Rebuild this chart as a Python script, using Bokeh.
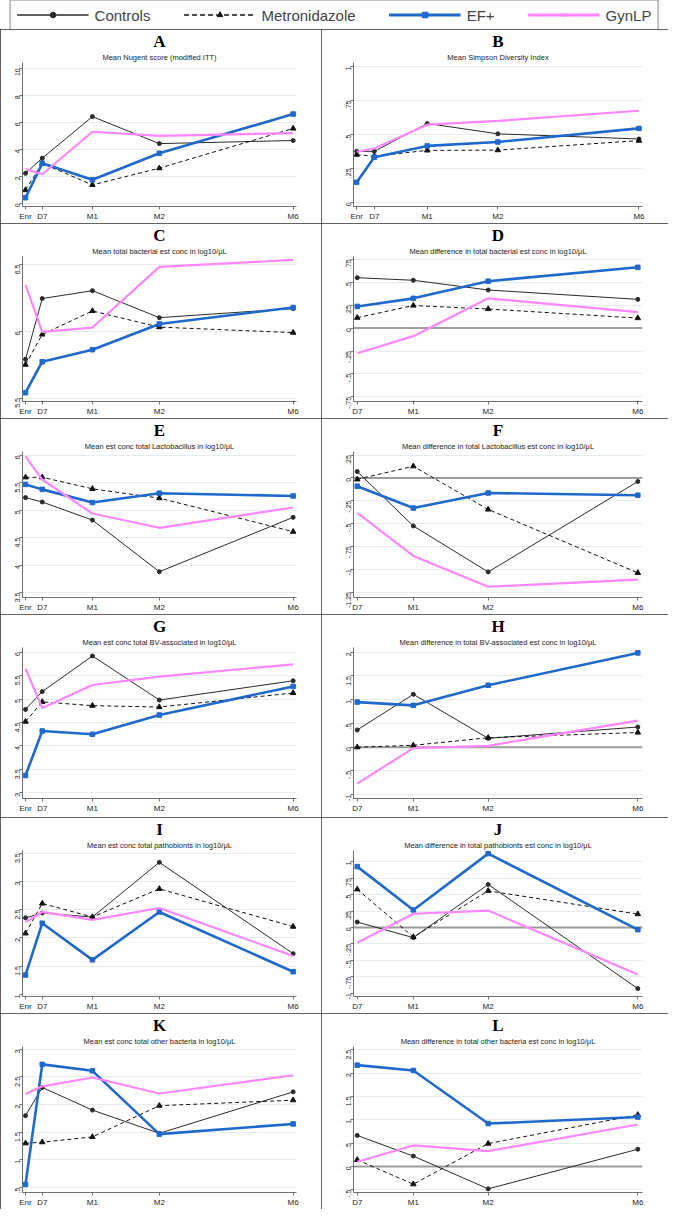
import math
from bokeh.plotting import figure
from bokeh.layouts import gridplot, column
from bokeh.models import FixedTicker, Range1d, Title, Span, Legend, LegendItem
from bokeh.embed import file_html
from bokeh.resources import INLINE

# ---------------- data ----------------
series_names = ["Controls", "Metronidazole", "EF+", "GynLP"]

x_all = [0, 1, 4, 8, 16]
x_all_labels = ["Enr", "D7", "M1", "M2", "M6"]
x_diff = [1, 4, 8, 16]
x_diff_labels = ["D7", "M1", "M2", "M6"]

# A: Mean Nugent score
a_ctrl = [2.22, 3.34, 6.42, 4.42, 4.65]
a_metro = [0.98, 2.95, 1.36, 2.60, 5.54]
a_ef = [0.41, 2.96, 1.74, 3.70, 6.61]
a_gyn = [2.53, 2.15, 5.30, 4.99, 5.20]
# B: Simpson diversity
b_ctrl = [0.376, 0.376, 0.581, 0.505, 0.467]
b_metro = [0.352, 0.340, 0.383, 0.385, 0.455]
b_ef = [0.148, 0.333, 0.416, 0.445, 0.545]
b_gyn = [0.373, 0.397, 0.572, 0.600, 0.675]
# C: total bacterial conc
c_ctrl = [5.79, 6.245, 6.304, 6.102, 6.17]
c_metro = [5.75, 5.976, 6.152, 6.031, 5.99]
c_ef = [5.54, 5.772, 5.862, 6.055, 6.178]
c_gyn = [6.347, 5.995, 6.028, 6.482, 6.534]
# D: difference total bacterial
d_ctrl = [0.549, 0.521, 0.415, 0.313]
d_metro = [0.113, 0.246, 0.208, 0.109]
d_ef = [0.236, 0.324, 0.511, 0.662]
d_gyn = [-0.275, -0.088, 0.324, 0.173]
# E: Lactobacillus
e_ctrl = [5.23, 5.15, 4.82, 3.88, 4.87]
e_metro = [5.60, 5.60, 5.39, 5.22, 4.61]
e_ef = [5.47, 5.38, 5.14, 5.31, 5.26]
e_gyn = [5.98, 5.56, 4.94, 4.68, 5.05]
# F: difference Lactobacillus
f_ctrl = [0.07, -0.526, -1.03, -0.039]
f_metro = [-0.015, 0.128, -0.345, -1.04]
f_ef = [-0.09, -0.33, -0.165, -0.189]
f_gyn = [-0.383, -0.855, -1.192, -1.114]
# G: BV-associated
g_ctrl = [4.78, 5.16, 5.92, 4.98, 5.39]
g_metro = [4.52, 4.94, 4.86, 4.83, 5.13]
g_ef = [3.37, 4.32, 4.25, 4.66, 5.27]
g_gyn = [5.65, 4.81, 5.30, 5.48, 5.74]
# H: difference BV-associated
h_ctrl = [0.364, 1.114, 0.187, 0.425]
h_metro = [0.0, 0.04, 0.20, 0.31]
h_ef = [0.95, 0.882, 1.305, 1.986]
h_gyn = [-0.768, -0.018, 0.03, 0.56]
# I: pathobionts
i_ctrl = [2.355, 2.44, 2.37, 3.34, 1.72]
i_metro = [2.08, 2.61, 2.37, 2.87, 2.20]
i_ef = [1.34, 2.26, 1.61, 2.46, 1.40]
i_gyn = [2.28, 2.46, 2.32, 2.53, 1.68]
# J: difference pathobionts
j_ctrl = [0.082, -0.155, 0.654, -0.93]
j_metro = [0.58, -0.145, 0.557, 0.203]
j_ef = [0.925, 0.266, 1.123, -0.034]
j_gyn = [-0.232, 0.208, 0.257, -0.717]
# K: other bacteria
k_ctrl = [1.80, 2.31, 1.90, 1.48, 2.23]
k_metro = [1.30, 1.32, 1.415, 1.98, 2.08]
k_ef = [0.556, 2.727, 2.61, 1.466, 1.65]
k_gyn = [2.19, 2.33, 2.49, 2.20, 2.53]
# L: difference other bacteria
l_ctrl = [0.663, 0.221, -0.482, 0.368]
l_metro = [0.14, -0.382, 0.489, 1.105]
l_ef = [2.17, 2.056, 0.918, 1.058]
l_gyn = [0.10, 0.449, 0.328, 0.897]

letters = ["A", "B", "C", "D", "E", "F", "G", "H", "I", "J", "K", "L"]
subtitles = [
    "Mean Nugent score (modified ITT)",
    "Mean Simpson Diversity Index",
    "Mean total bacterial est conc in log10/\u03bcL",
    "Mean difference in total bacterial est conc in log10/\u03bcL",
    "Mean est conc total Lactobacillus in log10/\u03bcL",
    "Mean difference in total Lactobacillus est conc in log10/\u03bcL",
    "Mean est conc total BV-associated in log10/\u03bcL",
    "Mean difference in total BV-associated est conc in log10/\u03bcL",
    "Mean est conc total pathobionts in log10/\u03bcL",
    "Mean difference in total pathobionts est conc in log10/\u03bcL",
    "Mean est conc total other bacteria in log10/\u03bcL",
    "Mean difference in total other bacteria est conc in log10/\u03bcL",
]
y_ticks = [
    [0, 2, 4, 6, 8, 10],
    [0, 0.25, 0.5, 0.75, 1],
    [5.5, 6, 6.5],
    [-0.75, -0.5, -0.25, 0, 0.25, 0.5, 0.75],
    [3.5, 4, 4.5, 5, 5.5, 6],
    [-1.25, -1, -0.75, -0.5, -0.25, 0, 0.25],
    [3, 3.5, 4, 4.5, 5, 5.5, 6],
    [-1, -0.5, 0, 0.5, 1, 1.5, 2],
    [1, 1.5, 2, 2.5, 3, 3.5],
    [-1, -0.75, -0.5, -0.25, 0, 0.25, 0.5, 0.75, 1],
    [0.5, 1, 1.5, 2, 2.5, 3],
    [-0.5, 0, 0.5, 1, 1.5, 2, 2.5],
]
panel_data = [
    (a_ctrl, a_metro, a_ef, a_gyn), (b_ctrl, b_metro, b_ef, b_gyn),
    (c_ctrl, c_metro, c_ef, c_gyn), (d_ctrl, d_metro, d_ef, d_gyn),
    (e_ctrl, e_metro, e_ef, e_gyn), (f_ctrl, f_metro, f_ef, f_gyn),
    (g_ctrl, g_metro, g_ef, g_gyn), (h_ctrl, h_metro, h_ef, h_gyn),
    (i_ctrl, i_metro, i_ef, i_gyn), (j_ctrl, j_metro, j_ef, j_gyn),
    (k_ctrl, k_metro, k_ef, k_gyn), (l_ctrl, l_metro, l_ef, l_gyn),
]

# ---------------- layout / style ----------------
y_ranges = [(-0.24, 10.43), (-0.03, 1.03), (5.474, 6.56), (-0.80, 0.78),
            (3.41, 6.07), (-1.31, 0.29), (2.88, 6.10), (-1.08, 2.10),
            (0.96, 3.55), (-1.05, 1.17), (0.41, 3.05), (-0.56, 2.57)]
left_b = [21, 21, 22, 26, 21, 32, 21, 32, 22, 27, 18, 26]
right_b = [11, 15, 14, 18, 12, 24, 12, 24, 25, 26, 14, 24]
row_h = [194, 195, 196, 203, 196, 196]
row_top = [31, 30, 31, 30, 30, 33]
row_bot = [16, 15, 11, 19, 17, 11]
col_w = [321, 347]

C_CTRL = "#2a2a2a"
C_METRO = "#111111"
C_EF = "#1f68cc"
C_GYN = "#ff86ff"
GRID = "#e3edef"
AXIS = "#707070"


def stata_label(v):
    s = "%g" % v
    if s.startswith("0."):
        s = s[1:]
    elif s.startswith("-0."):
        s = "-" + s[2:]
    return s


def draw_series(p, xs, ctrl, metro, ef, gyn):
    p.line(xs, ctrl, line_color=C_CTRL, line_width=1)
    p.scatter(xs, ctrl, marker="circle", size=4, color=C_CTRL)
    p.line(xs, metro, line_color=C_METRO, line_width=1, line_dash="4 3")
    p.scatter(xs, metro, marker="triangle", size=5.5, color=C_METRO)
    p.line(xs, ef, line_color=C_EF, line_width=2.6)
    p.scatter(xs, ef, marker="square", size=4.5, color=C_EF)
    p.line(xs, gyn, line_color=C_GYN, line_width=2.2)


figs = []
for idx in range(12):
    r, c = divmod(idx, 2)
    diff = (c == 1 and idx != 1)
    xs = x_diff if diff else x_all
    xl = x_diff_labels if diff else x_all_labels
    xr = (0.8, 16.25) if diff else (-0.18, 16.2)
    p = figure(width=col_w[c], height=row_h[r], title=None,
               x_range=Range1d(*xr), y_range=Range1d(*y_ranges[idx]),
               output_backend="svg", toolbar_location=None,
               min_border_left=left_b[idx], min_border_right=right_b[idx],
               min_border_top=row_top[r], min_border_bottom=row_bot[r],
               background_fill_color="white", border_fill_color="white",
               outline_line_color=None,
               styles={"outline": "1.5px solid #303030", "outline-offset": "-1px"})
    p.add_layout(Title(text=subtitles[idx], align="center", text_font="Liberation Sans",
                       text_font_size="7.5px", text_font_style="normal",
                       text_color="#222222", standoff=1), "above")
    p.add_layout(Title(text=letters[idx], align="center", text_font="Liberation Serif",
                       text_font_size="17px", text_font_style="bold",
                       text_color="#000000", standoff=0), "above")
    p.xaxis.ticker = FixedTicker(ticks=xs)
    p.xaxis.major_label_overrides = {x: l for x, l in zip(xs, xl)}
    p.yaxis.ticker = FixedTicker(ticks=y_ticks[idx])
    p.yaxis.major_label_overrides = {t: stata_label(t) for t in y_ticks[idx]}
    p.yaxis.major_label_orientation = math.pi / 2
    for ax in (p.xaxis[0], p.yaxis[0]):
        ax.axis_line_color = AXIS
        ax.major_tick_line_color = AXIS
        ax.minor_tick_line_color = None
        ax.major_tick_out = 3
        ax.major_tick_in = 0
        ax.major_label_standoff = 2
        ax.major_label_text_font = "Liberation Sans"
        ax.major_label_text_color = "#222222"
    p.xaxis.major_label_text_font_size = "8px"
    p.yaxis.major_label_text_font_size = "7px"
    p.xgrid.visible = False
    p.ygrid.grid_line_color = GRID
    p.ygrid.grid_line_width = 1
    if diff:
        p.add_layout(Span(location=0, dimension="width", line_color="#9c9c9c",
                          line_width=2, level="underlay"))
    draw_series(p, xs, *panel_data[idx])
    figs.append(p)

grid = gridplot([figs[i:i + 2] for i in range(0, 12, 2)], toolbar_location=None)

# ---------------- legend strip ----------------
lf = figure(width=668, height=29, output_backend="svg", toolbar_location=None,
            x_range=Range1d(0, 1), y_range=Range1d(0, 1), min_border=0,
            outline_line_color=None, title=None)
lf.axis.visible = False
lf.grid.visible = False
hid = [-9]  # off-canvas placeholder so that legend swatches are drawn
r1 = lf.line(hid, hid, line_color=C_CTRL, line_width=1.5)
r1b = lf.scatter(hid, hid, marker="circle", size=6, color=C_CTRL)
r2 = lf.line(hid, hid, line_color=C_METRO, line_width=1.5, line_dash="5 3")
r2b = lf.scatter(hid, hid, marker="triangle", size=8, color=C_METRO)
r3 = lf.line(hid, hid, line_color=C_EF, line_width=3)
r3b = lf.scatter(hid, hid, marker="square", size=6, color=C_EF)
r4 = lf.line(hid, hid, line_color=C_GYN, line_width=3)
r4b = lf.scatter(hid, hid, marker="x", size=6, line_color=C_GYN, line_width=1)
legend = Legend(items=[
    LegendItem(label=series_names[0], renderers=[r1, r1b]),
    LegendItem(label=series_names[1], renderers=[r2, r2b]),
    LegendItem(label=series_names[2], renderers=[r3, r3b]),
    LegendItem(label=series_names[3], renderers=[r4, r4b]),
], orientation="horizontal", location="center",
    label_text_font="Liberation Sans", label_text_font_size="15px",
    glyph_width=72, glyph_height=14, label_standoff=6, spacing=33,
    padding=6, margin=0, border_line_color="#111111", border_line_width=1.5,
    background_fill_alpha=1.0)
lf.add_layout(legend, "center")

layout = column(lf, grid, spacing=0)
open("out.html", "w").write(file_html(layout, INLINE))
